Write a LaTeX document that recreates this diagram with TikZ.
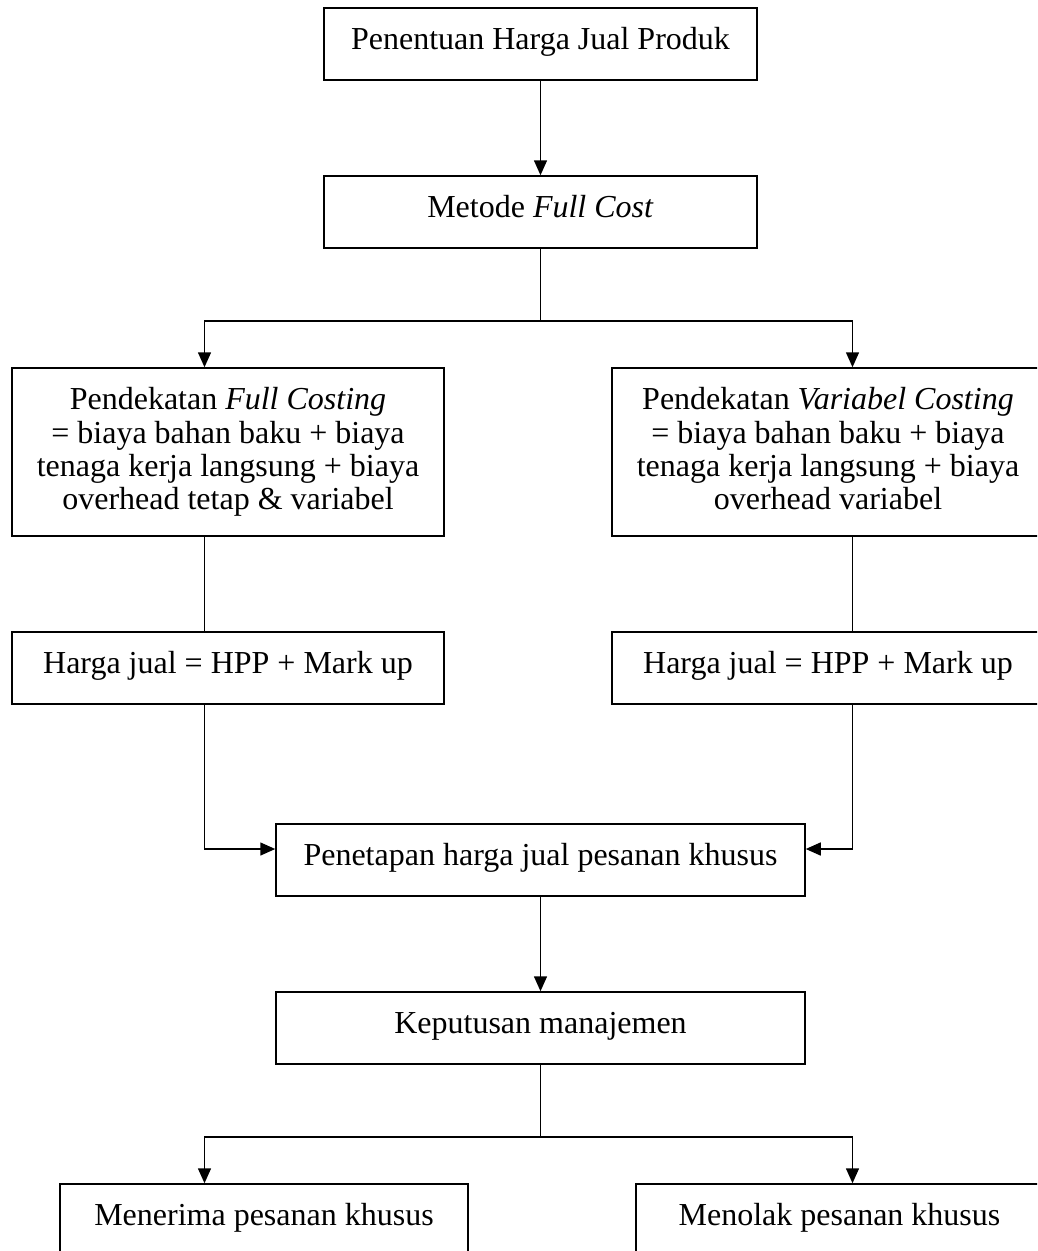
\documentclass[tikz,border=0pt]{standalone}
\usepackage{fontspec}
\setmainfont{Liberation Serif}
\usetikzlibrary{arrows.meta}
\begin{document}
\begin{tikzpicture}[x=1pt,y=-1pt,
  box/.style={draw, line width=1.5pt, rectangle, inner sep=0pt, minimum height=72pt,
    font=\fontsize{32}{33.3}\selectfont, text height=22pt, text depth=12pt},
  bigbox/.style={draw, line width=1.5pt, rectangle, inner sep=0pt, minimum height=168pt,
    font=\fontsize{32}{33.3}\selectfont, align=center},
  conn/.style={line width=1.5pt},
  arr/.style={line width=1.5pt, -{Triangle[length=15pt,width=13pt]}}]
\useasboundingbox (0,0) rectangle (1037,1251);
\clip (0,0) rectangle (1037,1251);
\fill[white] (0,0) rectangle (1037,1251);
% helper coordinates
\coordinate (xl) at (204.5,0);
\coordinate (xr) at (852.5,0);
\coordinate (jy1) at (0,321);
\coordinate (jy2) at (0,849);
\coordinate (jy3) at (0,1137);
% nodes
\node[box, minimum width=433pt] (b1) at (540.5,44) {Penentuan Harga Jual Produk};
\node[box, minimum width=433pt] (b2) at (540.5,212) {Metode \textit{Full Cost}};
\node[bigbox, minimum width=432pt] (b3L) at (228,452) {Pendekatan \textit{Full Costing}\\= biaya bahan baku + biaya\\tenaga kerja langsung + biaya\\overhead tetap \& variabel};
\node[bigbox, minimum width=432pt] (b3R) at (828,452) {Pendekatan \textit{Variabel Costing}\\= biaya bahan baku + biaya\\tenaga kerja langsung + biaya\\overhead variabel\vphantom{p}};
\node[box, minimum width=432pt] (b4L) at (228,668) {Harga jual = HPP + Mark up};
\node[box, minimum width=432pt] (b4R) at (828,668) {Harga jual = HPP + Mark up};
\node[box, minimum width=529pt] (b5) at (540.5,860) {Penetapan harga jual pesanan khusus};
\node[box, minimum width=529pt] (b6) at (540.5,1028) {Keputusan manajemen};
\node[box, minimum width=408pt] (b7L) at (264,1220) {Menerima pesanan khusus};
\node[box, minimum width=407pt] (b7R) at (839.5,1220) {Menolak pesanan khusus};
% connectors
\draw[arr] (b1.south) -- (b2.north);
\draw[conn] (b2.south) -- (b2.south |- jy1);
\draw[arr] (b2.south |- jy1) -| (b3L.north -| xl);
\draw[arr] (b2.south |- jy1) -| (b3R.north -| xr);
\draw[conn] (b3L.south -| xl) -- (b4L.north -| xl);
\draw[conn] (b3R.south -| xr) -- (b4R.north -| xr);
\draw[arr] (b4L.south -| xl) |- (b5.west |- jy2);
\draw[arr] (b4R.south -| xr) |- (b5.east |- jy2);
\draw[arr] (b5.south) -- (b6.north);
\draw[conn] (b6.south) -- (b6.south |- jy3);
\draw[arr] (b6.south |- jy3) -| (b7L.north -| xl);
\draw[arr] (b6.south |- jy3) -| (b7R.north -| xr);
\end{tikzpicture}
\end{document}
